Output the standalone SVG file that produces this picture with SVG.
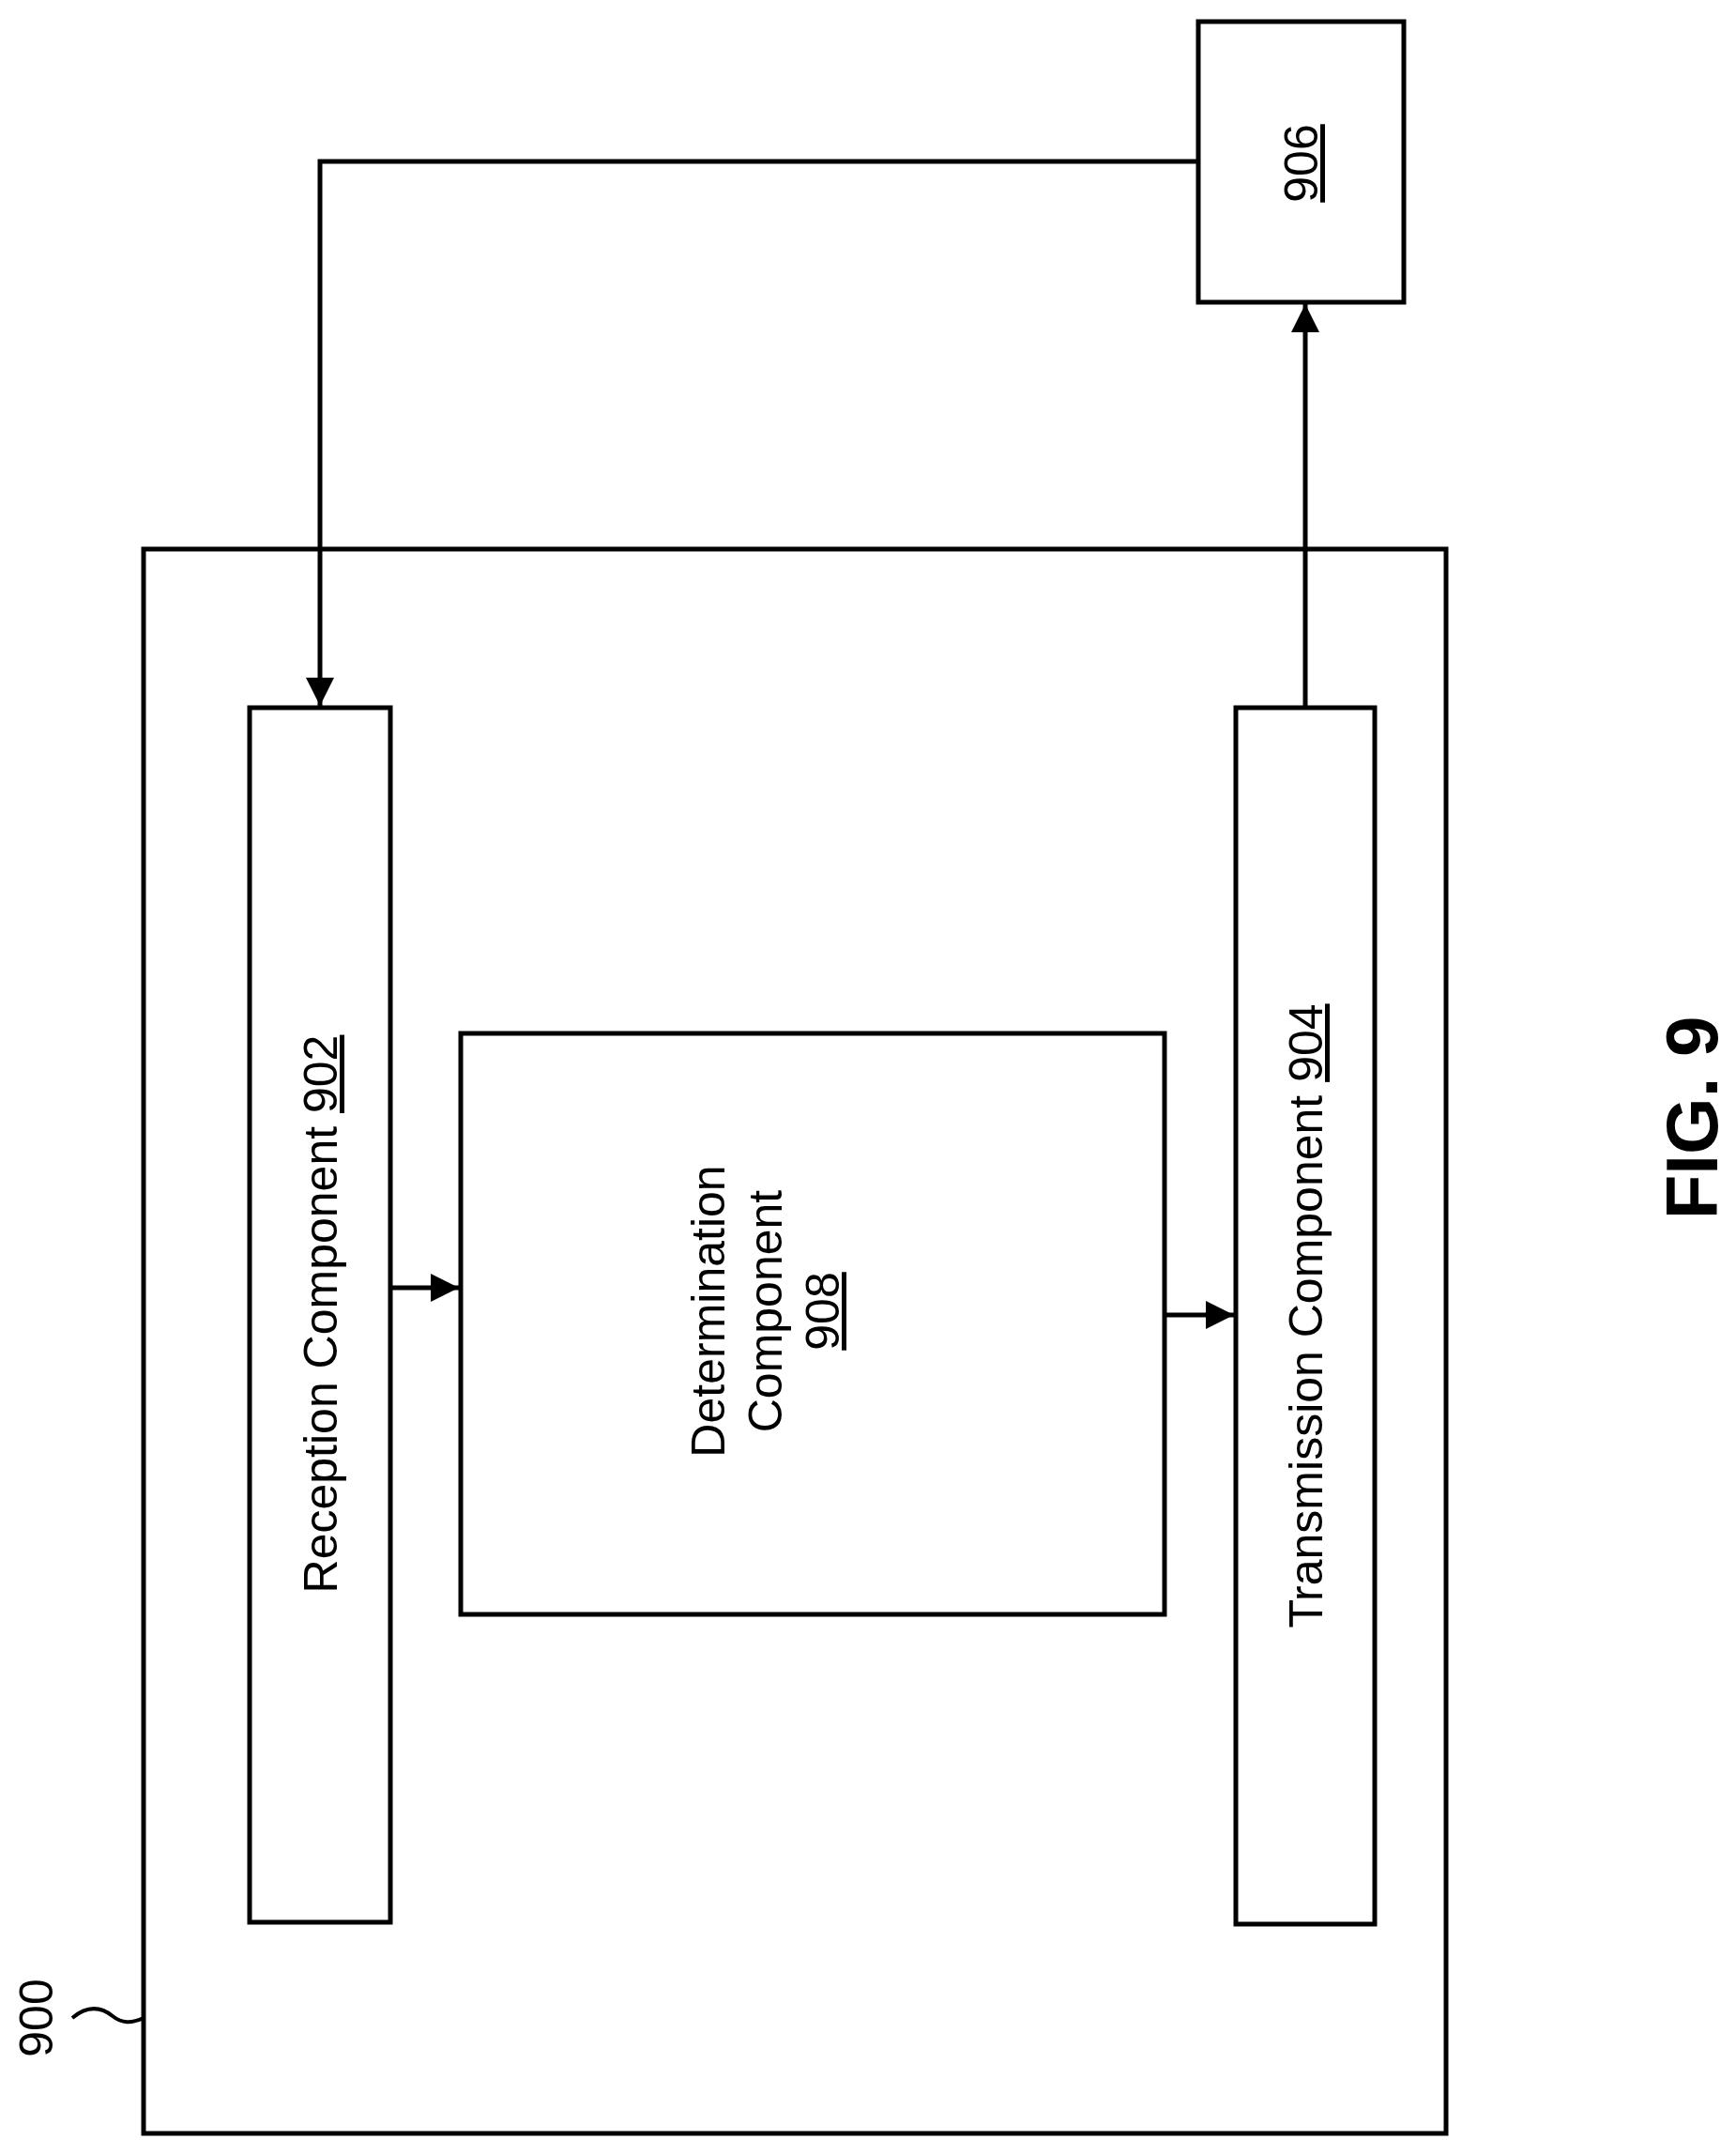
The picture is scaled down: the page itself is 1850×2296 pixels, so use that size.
<svg xmlns="http://www.w3.org/2000/svg" width="1850" height="2296" viewBox="0 0 1850 2296">
<style>
.b{fill:#fff;stroke:#000;stroke-width:5}
.c{fill:none;stroke:#000;stroke-width:5}
.t{font-family:"Liberation Sans",Arial,sans-serif;font-size:50px;fill:#000;text-anchor:middle}
.u{text-decoration:underline}
</style>
<defs>
<marker id="ah" viewBox="0 0 10 10" refX="10" refY="5" markerWidth="6" markerHeight="6" markerUnits="strokeWidth" orient="auto">
<path d="M0,0 L10,5 L0,10 z" fill="#000"/>
</marker>
</defs>
<rect width="1850" height="2296" fill="#fff"/>
<g id="n900">
<rect class="b" x="153" y="585" width="1388" height="1688"/>
<text class="t" transform="translate(38,2150) rotate(-90)" y="18">900</text>
<path class="c" d="M77,2150 C95,2135 110,2140 120,2148 C130,2156 140,2156 153,2150" style="stroke-width:4"/>
</g>
<g id="n906">
<rect class="b" x="1277" y="23" width="219" height="299"/>
<text class="t" transform="translate(1386,174) rotate(-90)" y="18"><tspan class="u">906</tspan></text>
</g>
<g id="n902">
<rect class="b" x="266" y="754" width="150" height="1294"/>
<text class="t" transform="translate(341,1400) rotate(-90)" y="18">Reception Component <tspan class="u">902</tspan></text>
</g>
<g id="n908">
<rect class="b" x="491" y="1101" width="750" height="619"/>
<text class="t" transform="translate(815,1397) rotate(-90)"><tspan x="0" y="-43">Determination</tspan><tspan x="0" y="18">Component</tspan><tspan x="0" y="79" class="u">908</tspan></text>
</g>
<g id="n904">
<rect class="b" x="1317" y="754" width="148" height="1296"/>
<text class="t" transform="translate(1391,1402) rotate(-90)" y="18">Transmission Component <tspan class="u">904</tspan></text>
</g>
<g id="fig">
<text transform="translate(1802,1191) rotate(-90)" y="28" style="font-family:'Liberation Sans',Arial,sans-serif;font-size:78px;font-weight:bold;text-anchor:middle">FIG. 9</text>
</g>
<g id="connectors">
<path class="c" d="M1277,172 H341 V752" marker-end="url(#ah)"/>
<path class="c" d="M416,1372 H489" marker-end="url(#ah)"/>
<path class="c" d="M1241,1401 H1315" marker-end="url(#ah)"/>
<path class="c" d="M1391,754 V324" marker-end="url(#ah)"/>
</g>
</svg>
